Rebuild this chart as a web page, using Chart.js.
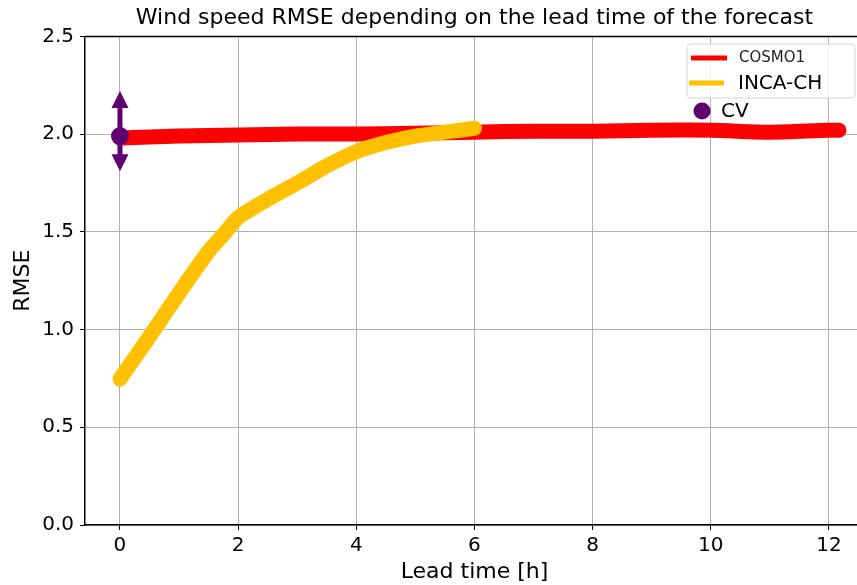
<!DOCTYPE html>
<html>
<head>
<meta charset="utf-8">
<script src="https://cdn.jsdelivr.net/npm/chart.js@4/dist/chart.umd.min.js"></script>
<style>
  html, body { margin: 0; padding: 0; background: #fff; overflow: hidden; }
  canvas { display: block; }
</style>
</head>
<body>
<canvas id="rmseChart" width="864" height="585"></canvas>
<script>
const cosmoHours = [0, 1, 2, 3, 4, 5, 6, 7, 8, 9, 10, 11, 12, 12.17];
const cosmoRmse = [1.98, 1.99, 1.995, 2.0, 2.0, 2.005, 2.01, 2.015, 2.015, 2.02, 2.02, 2.01, 2.02, 2.02];

const incaHours = [0, 0.5, 1, 1.5, 1.75, 2, 2.5, 3, 3.5, 4, 4.5, 5, 5.5, 6];
const incaRmse = [0.747, 0.964, 1.187, 1.4, 1.486, 1.573, 1.666, 1.75, 1.837, 1.91, 1.957, 1.99, 2.01, 2.03];

const cvHour = 0;
const cvRmse = 1.99;
const cvArrowRange = [1.81, 2.22];

const xTicks = [0, 2, 4, 6, 8, 10, 12];
const yTicks = [0, 0.5, 1.0, 1.5, 2.0, 2.5];

const FONT = "'DejaVu Sans', sans-serif";
const RED = "#ff0000";
const YELLOW = "#ffc000";
const PURPLE = "#600070";

const toPoints = (xs, ys) => xs.map((x, i) => ({ x: x, y: ys[i] }));

// arrows on the CV point, from the data range
const cvArrows = {
  id: "cvArrows",
  afterDatasetsDraw(chart) {
    const { ctx, scales } = chart;
    const x = scales.x.getPixelForValue(cvHour);
    const yc = scales.y.getPixelForValue(cvRmse);
    const yLo = scales.y.getPixelForValue(cvArrowRange[0]);
    const yHi = scales.y.getPixelForValue(cvArrowRange[1]);
    const head = 17;
    const half = 8.5;
    ctx.save();
    ctx.strokeStyle = PURPLE;
    ctx.fillStyle = PURPLE;
    ctx.lineWidth = 5;
    ctx.beginPath();
    ctx.moveTo(x, yc);
    ctx.lineTo(x, yHi + head - 1);
    ctx.moveTo(x, yc);
    ctx.lineTo(x, yLo - head + 1);
    ctx.stroke();
    ctx.beginPath();
    ctx.moveTo(x, yHi);
    ctx.lineTo(x - half, yHi + head);
    ctx.lineTo(x + half, yHi + head);
    ctx.closePath();
    ctx.fill();
    ctx.beginPath();
    ctx.moveTo(x, yLo);
    ctx.lineTo(x - half, yLo - head);
    ctx.lineTo(x + half, yLo - head);
    ctx.closePath();
    ctx.fill();
    ctx.restore();
  },
};

// matplotlib style legend + top spine
const mplLegend = {
  id: "mplLegend",
  afterDraw(chart) {
    const { ctx, chartArea } = chart;
    ctx.save();
    // top spine
    ctx.strokeStyle = "#000";
    ctx.lineWidth = 1.5;
    ctx.beginPath();
    ctx.moveTo(chartArea.left, chartArea.top);
    ctx.lineTo(chartArea.right, chartArea.top);
    ctx.stroke();

    // legend box
    const bx = 687, by = 44, bw = 168, bh = 54, r = 4;
    ctx.fillStyle = "rgba(255,255,255,0.8)";
    ctx.strokeStyle = "#d6d6d6";
    ctx.lineWidth = 1;
    ctx.beginPath();
    ctx.moveTo(bx + r, by);
    ctx.lineTo(bx + bw - r, by);
    ctx.quadraticCurveTo(bx + bw, by, bx + bw, by + r);
    ctx.lineTo(bx + bw, by + bh - r);
    ctx.quadraticCurveTo(bx + bw, by + bh, bx + bw - r, by + bh);
    ctx.lineTo(bx + r, by + bh);
    ctx.quadraticCurveTo(bx, by + bh, bx, by + bh - r);
    ctx.lineTo(bx, by + r);
    ctx.quadraticCurveTo(bx, by, bx + r, by);
    ctx.closePath();
    ctx.fill();
    ctx.stroke();

    const ds = chart.data.datasets;
    ctx.lineCap = "butt";
    ctx.lineWidth = 5;
    ctx.textBaseline = "middle";
    ctx.textAlign = "left";

    ctx.strokeStyle = ds[0].borderColor;
    ctx.beginPath();
    ctx.moveTo(691, 58);
    ctx.lineTo(727, 58);
    ctx.stroke();
    ctx.fillStyle = "#222";
    ctx.font = "15px " + FONT;
    ctx.fillText(ds[0].label, 739, 58);

    ctx.strokeStyle = ds[1].borderColor;
    ctx.beginPath();
    ctx.moveTo(689, 83);
    ctx.lineTo(724, 83);
    ctx.stroke();
    ctx.fillStyle = "#000";
    ctx.font = "20px " + FONT;
    ctx.fillText(ds[1].label, 738, 84);

    ctx.fillStyle = PURPLE;
    ctx.beginPath();
    ctx.arc(702, 111, 8.5, 0, Math.PI * 2);
    ctx.fill();
    ctx.fillStyle = "#000";
    ctx.fillText(ds[2].label, 721, 112);
    ctx.restore();
  },
};

const data = {
  datasets: [
    {
      label: "COSMO1",
      data: toPoints(cosmoHours, cosmoRmse),
      borderColor: RED,
      backgroundColor: RED,
      borderWidth: 15,
      borderCapStyle: "round",
      borderJoinStyle: "round",
      pointRadius: 0,
      tension: 0.3,
      order: 3,
    },
    {
      label: "INCA-CH",
      data: toPoints(incaHours, incaRmse),
      borderColor: YELLOW,
      backgroundColor: YELLOW,
      borderWidth: 15,
      borderCapStyle: "round",
      borderJoinStyle: "round",
      pointRadius: 0,
      tension: 0.2,
      order: 2,
    },
    {
      label: "CV",
      data: [{ x: cvHour, y: cvRmse }],
      showLine: false,
      borderColor: PURPLE,
      backgroundColor: PURPLE,
      pointRadius: 9,
      pointBorderWidth: 0,
      order: 1,
    },
  ],
};

const options = {
  responsive: false,
  animation: false,
  layout: { padding: 0, autoPadding: false },
  scales: {
    x: {
      type: "linear",
      min: -0.592,
      max: 12.593,
      afterBuildTicks: (s) => { s.ticks = xTicks.map((v) => ({ value: v })); },
      afterFit: (s) => { s.height = 60; s.paddingLeft = 0; s.paddingRight = 0; },
      grid: { color: "#b0b0b0", lineWidth: 1, tickColor: "#000", tickLength: 5 },
      border: { color: "#000", width: 1.5 },
      ticks: { color: "#000", padding: 4, font: { family: FONT, size: 20 } },
      title: {
        display: true,
        text: "Lead time [h]",
        color: "#000",
        padding: { top: 0, bottom: 0 },
        font: { family: FONT, size: 22 },
      },
    },
    y: {
      min: 0,
      max: 2.5,
      afterBuildTicks: (s) => { s.ticks = yTicks.map((v) => ({ value: v })); },
      afterFit: (s) => { s.width = 85; },
      grid: { color: "#b0b0b0", lineWidth: 1, tickColor: "#000", tickLength: 5 },
      border: { color: "#000", width: 1.5 },
      ticks: {
        color: "#000",
        padding: 6,
        font: { family: FONT, size: 20 },
        callback: (v) => v.toFixed(1),
      },
      title: {
        display: true,
        text: "RMSE",
        color: "#000",
        padding: { top: 10, bottom: 0 },
        font: { family: FONT, size: 22 },
      },
    },
  },
  plugins: {
    legend: { display: false },
    tooltip: { enabled: false },
    title: {
      display: true,
      fullSize: false,
      text: "Wind speed RMSE depending on the lead time of the forecast",
      color: "#000",
      padding: { top: 5, bottom: 5 },
      font: { family: FONT, size: 22, weight: "normal" },
    },
  },
};

new Chart(document.getElementById("rmseChart").getContext("2d"), {
  type: "line",
  data: data,
  options: options,
  plugins: [cvArrows, mplLegend],
});
</script>
</body>
</html>
